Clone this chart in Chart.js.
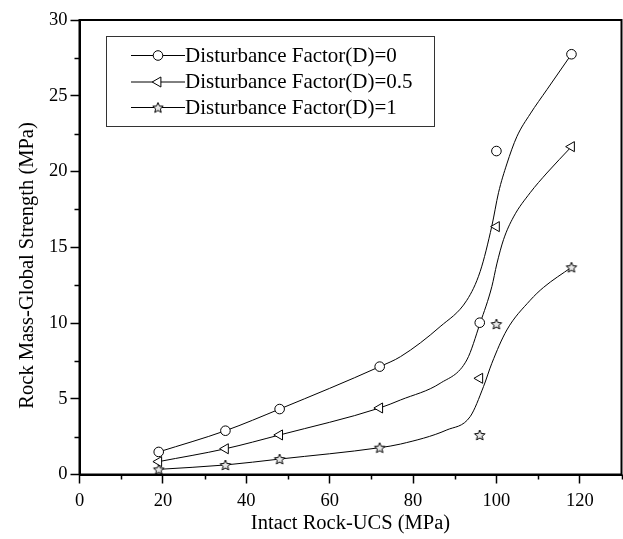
<!DOCTYPE html>
<html>
<head>
<meta charset="utf-8">
<script src="https://cdn.jsdelivr.net/npm/chart.js@4.4.1/dist/chart.umd.min.js"></script>
<style>
  html, body { margin: 0; padding: 0; background: #fff; }
  #wrap { width: 623px; height: 539px; position: relative; }
</style>
</head>
<body>
<div id="wrap"><canvas id="chart"></canvas></div>
<script>
// measured points (Intact Rock UCS vs rock mass global strength)
const ucs = [19, 35, 48, 72, 96, 100, 118];
const strengthD0 = [1.49, 2.89, 4.32, 7.12, 10.02, 21.35, 27.74];
const strengthD05 = [0.85, 1.70, 2.61, 4.39, 6.35, 16.36, 21.64];
const strengthD1 = [0.34, 0.63, 1.02, 1.77, 2.61, 9.93, 13.68];

// fitted curves
const fitX0 = [19, 35, 48, 72, 77, 86.5, 92.9, 96.1, 98.9, 100.5, 102.5, 104.9, 108.1, 112.1, 118];
const fitY0 = [1.49, 2.89, 4.32, 7.12, 7.78, 9.76, 11.5, 13.4, 16.4, 18.6, 20.5, 22.3, 23.8, 25.4, 27.74];
const fitX05 = [19, 35, 48, 72, 77, 86.5, 92.9, 96.1, 98.9, 100.1, 101.7, 104.1, 108.1, 112.1, 118];
const fitY05 = [0.85, 1.70, 2.61, 4.39, 4.92, 6.02, 7.56, 10.0, 12.4, 13.9, 15.5, 17.0, 18.6, 19.9, 21.64];
const fitX1 = [19, 35, 48, 72, 77, 88.1, 93.7, 96.9, 98.9, 102.5, 108.1, 111.3, 118];
const fitY1 = [0.34, 0.63, 1.02, 1.77, 2.01, 2.94, 3.82, 5.8, 7.34, 9.54, 11.5, 12.35, 13.68];

const xTicks = [0, 20, 40, 60, 80, 100, 120];
const yTicks = [0, 5, 10, 15, 20, 25, 30];

const seriesLabels = ["Disturbance Factor(D)=0", "Disturbance Factor(D)=0.5", "Disturbance Factor(D)=1"];
const yTitle = "Rock Mass-Global Strength (MPa)";

const FONT = "'Liberation Serif', 'DejaVu Serif', serif";

// small outlined 5-point star used as marker
function makeStar(r) {
  const c = document.createElement("canvas");
  const s = Math.ceil(r * 2 + 3);
  c.width = s; c.height = s;
  const g = c.getContext("2d");
  const cx = s / 2, cy = s / 2 + 0.5;
  g.beginPath();
  for (let i = 0; i < 10; i++) {
    const rr = i % 2 === 0 ? r : r * 0.45;
    const a = -Math.PI / 2 + i * Math.PI / 5;
    const px = cx + Math.cos(a) * rr, py = cy + Math.sin(a) * rr;
    if (i === 0) g.moveTo(px, py); else g.lineTo(px, py);
  }
  g.closePath();
  g.fillStyle = "#e8e8e8";
  g.fill();
  g.strokeStyle = "#000";
  g.lineWidth = 1;
  g.stroke();
  return c;
}
const starImg = makeStar(5.5);

const pts = (xs, ys) => xs.map((x, i) => ({ x: x, y: ys[i] }));

function markerSet(ys, style, extra) {
  return Object.assign({
    type: "scatter",
    data: pts(ucs, ys),
    pointStyle: style,
    pointRadius: 4.8,
    pointBackgroundColor: "#fff",
    pointBorderColor: "#000",
    pointBorderWidth: 1,
    showLine: false,
    order: 1
  }, extra || {});
}
function curveSet(xs, ys) {
  return {
    type: "line",
    data: pts(xs, ys),
    borderColor: "#000",
    borderWidth: 1,
    pointRadius: 0,
    cubicInterpolationMode: "monotone",
    fill: false,
    order: 2
  };
}

// chart.js keeps ~5px free on the right; stretch the plot to the frame edge
const stretchPlugin = {
  id: "stretch",
  afterLayout(chart) {
    const a = chart.chartArea, xs = chart.scales.x;
    const R = chart.width - 1.5;
    a.right = R; a.width = R - a.left;
    xs.right = R; xs.width = R - xs.left;
    xs.configure();
  }
};

// frame, minor ticks, y title and legend box
const framePlugin = {
  id: "frame",
  afterDraw(chart) {
    const ctx = chart.ctx, a = chart.chartArea;
    const xs = chart.scales.x, ys = chart.scales.y;
    ctx.save();
    ctx.strokeStyle = "#000";
    ctx.lineWidth = 2;
    ctx.strokeRect(a.left, a.top, a.right - a.left, a.bottom - a.top);
    ctx.lineWidth = 1.5;
    ctx.beginPath();
    for (let v = 10; v <= 130; v += 20) {
      const px = Math.round(xs.getPixelForValue(v)) + 0.5;
      ctx.moveTo(px, a.bottom); ctx.lineTo(px, a.bottom + 5);
    }
    for (let v = 2.5; v < 30; v += 5) {
      const py = Math.round(ys.getPixelForValue(v)) + 0.5;
      ctx.moveTo(a.left, py); ctx.lineTo(a.left - 5, py);
    }
    ctx.stroke();

    // y axis title (sits a little below the axis centre in the original)
    ctx.save();
    ctx.translate(28, ys.getPixelForValue(13.8));
    ctx.rotate(-Math.PI / 2);
    ctx.font = "20.5px " + FONT;
    ctx.fillStyle = "#000";
    ctx.textAlign = "center";
    ctx.textBaseline = "middle";
    ctx.fillText(yTitle, 0, 0);
    ctx.restore();

    // legend
    const bx = 106, by = 36, bw = 328, bh = 90;
    ctx.lineWidth = 1;
    ctx.strokeStyle = "#333";
    ctx.strokeRect(bx + 0.5, by + 0.5, bw, bh);
    const rows = [55, 81.5, 107];
    const styles = ["circle", "triangle", starImg];
    ctx.font = "21px " + FONT;
    ctx.textBaseline = "middle";
    rows.forEach((ry, i) => {
      ctx.strokeStyle = "#000";
      ctx.lineWidth = 1;
      ctx.beginPath();
      ctx.moveTo(131, ry + 0.5); ctx.lineTo(185, ry + 0.5);
      ctx.stroke();
      ctx.fillStyle = "#fff";
      Chart.helpers.drawPoint(ctx, {
        pointStyle: styles[i], radius: i === 1 ? 5.8 : 4.8,
        rotation: i === 1 ? -90 : 0, borderWidth: 1
      }, 158, ry + 0.5);
      ctx.fillStyle = "#000";
      ctx.fillText(seriesLabels[i], 185, ry + 1);
    });
    ctx.restore();
  }
};

new Chart(document.getElementById("chart"), {
  data: {
    datasets: [
      markerSet(strengthD0, "circle"),
      markerSet(strengthD05, "triangle", { pointRotation: -90, pointRadius: 5.8 }),
      markerSet(strengthD1, starImg),
      curveSet(fitX0, fitY0),
      curveSet(fitX05, fitY05),
      curveSet(fitX1, fitY1)
    ]
  },
  options: {
    responsive: true,
    maintainAspectRatio: false,
    animation: false,
    layout: { padding: { top: 20, right: 1.5, left: 0, bottom: 0 } },
    plugins: { legend: { display: false }, tooltip: { enabled: false } },
    scales: {
      x: {
        type: "linear",
        min: 0, max: 130,
        afterBuildTicks: s => { s.ticks = xTicks.map(v => ({ value: v })); },
        ticks: {
          autoSkip: false, color: "#000", padding: 7,
          font: { family: FONT, size: 18.5 }
        },
        grid: { drawOnChartArea: false, tickLength: 9, tickWidth: 1.5, tickColor: "#000" },
        border: { display: true, color: "#000", width: 2 },
        title: { display: true, text: "Intact Rock-UCS (MPa)", color: "#000", font: { family: FONT, size: 20.5 }, padding: { top: 9, bottom: 3 } },
        afterFit: s => { s.height = 64.5; }
      },
      y: {
        min: 0, max: 30,
        afterBuildTicks: s => { s.ticks = yTicks.map(v => ({ value: v })); },
        ticks: {
          autoSkip: false, color: "#000", padding: 3,
          font: { family: FONT, size: 18.5 }
        },
        grid: { drawOnChartArea: false, tickLength: 9, tickWidth: 1.5, tickColor: "#000" },
        border: { display: true, color: "#000", width: 2 },
        afterFit: s => { s.width = 79.5; }
      }
    }
  },
  plugins: [stretchPlugin, framePlugin]
});
</script>
</body>
</html>
